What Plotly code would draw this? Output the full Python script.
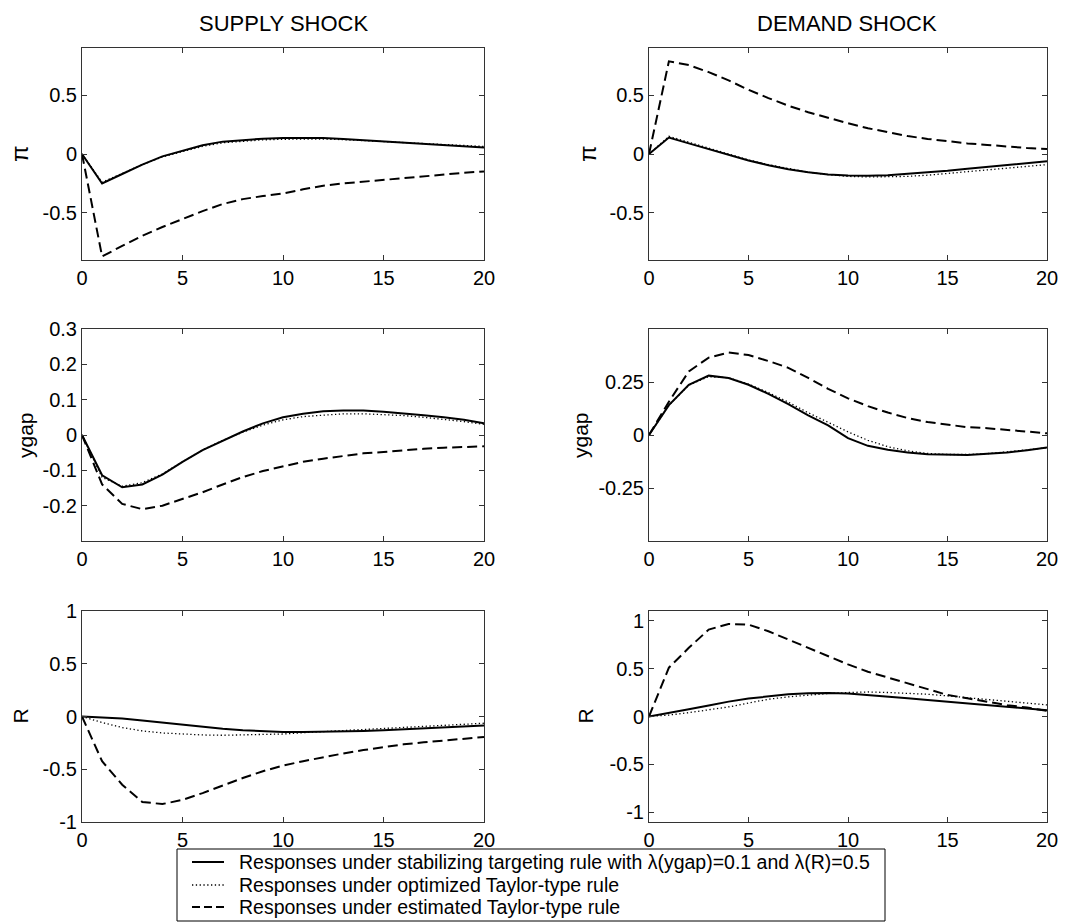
import plotly.graph_objects as go

# ---------------- data ----------------
periods = list(range(21))

series_names = [
    "Responses under stabilizing targeting rule with \u03bb(ygap)=0.1 and \u03bb(R)=0.5",
    "Responses under optimized Taylor-type rule",
    "Responses under estimated Taylor-type rule",
]

column_titles = ["SUPPLY SHOCK", "DEMAND SHOCK"]
row_labels = ["\u03c0", "ygap", "R"]

# Supply shock
pi_supply_target = [0, -0.25, -0.17, -0.09, -0.02, 0.028, 0.075, 0.105, 0.12, 0.13, 0.136, 0.137, 0.135, 0.128, 0.118, 0.105, 0.095, 0.085, 0.075, 0.065, 0.056]
pi_supply_opt = [0, -0.24, -0.165, -0.09, -0.025, 0.02, 0.065, 0.095, 0.11, 0.12, 0.125, 0.128, 0.127, 0.122, 0.113, 0.104, 0.095, 0.087, 0.078, 0.07, 0.064]
pi_supply_est = [0, -0.87, -0.78, -0.695, -0.62, -0.553, -0.485, -0.425, -0.383, -0.357, -0.335, -0.30, -0.27, -0.25, -0.235, -0.218, -0.2, -0.185, -0.17, -0.16, -0.148]

ygap_supply_target = [0, -0.114, -0.148, -0.14, -0.112, -0.076, -0.043, -0.016, 0.01, 0.033, 0.05, 0.06, 0.067, 0.069, 0.069, 0.066, 0.062, 0.056, 0.05, 0.043, 0.033]
ygap_supply_opt = [0, -0.12, -0.145, -0.135, -0.11, -0.075, -0.042, -0.015, 0.008, 0.028, 0.043, 0.052, 0.057, 0.06, 0.06, 0.058, 0.055, 0.05, 0.045, 0.038, 0.03]
ygap_supply_est = [0, -0.14, -0.195, -0.21, -0.2, -0.181, -0.162, -0.14, -0.119, -0.102, -0.088, -0.076, -0.067, -0.059, -0.052, -0.048, -0.043, -0.039, -0.036, -0.034, -0.032]

r_supply_target = [0, -0.008, -0.02, -0.037, -0.057, -0.078, -0.1, -0.117, -0.13, -0.14, -0.146, -0.148, -0.146, -0.142, -0.137, -0.13, -0.121, -0.113, -0.105, -0.095, -0.086]
r_supply_opt = [0, -0.057, -0.105, -0.137, -0.156, -0.169, -0.175, -0.178, -0.175, -0.172, -0.166, -0.153, -0.143, -0.13, -0.121, -0.111, -0.099, -0.089, -0.08, -0.073, -0.064]
r_supply_est = [0, -0.424, -0.647, -0.81, -0.83, -0.79, -0.726, -0.653, -0.583, -0.519, -0.465, -0.424, -0.385, -0.35, -0.318, -0.29, -0.264, -0.245, -0.226, -0.207, -0.194]

# Demand shock
pi_demand_target = [0, 0.14, 0.09, 0.04, -0.005, -0.055, -0.095, -0.13, -0.155, -0.175, -0.182, -0.185, -0.18, -0.168, -0.155, -0.142, -0.125, -0.108, -0.092, -0.077, -0.062]
pi_demand_opt = [0, 0.15, 0.10, 0.05, 0.0, -0.05, -0.09, -0.125, -0.155, -0.175, -0.19, -0.195, -0.195, -0.19, -0.18, -0.165, -0.15, -0.135, -0.12, -0.105, -0.09]
pi_demand_est = [0, 0.787, 0.755, 0.695, 0.625, 0.545, 0.475, 0.41, 0.355, 0.307, 0.261, 0.219, 0.185, 0.152, 0.128, 0.108, 0.09, 0.077, 0.063, 0.051, 0.043]

ygap_demand_target = [0, 0.141, 0.237, 0.28, 0.269, 0.237, 0.194, 0.146, 0.093, 0.045, -0.015, -0.051, -0.07, -0.083, -0.091, -0.094, -0.094, -0.088, -0.082, -0.072, -0.059]
ygap_demand_opt = [0, 0.14, 0.235, 0.275, 0.27, 0.24, 0.2, 0.155, 0.105, 0.06, 0.015, -0.025, -0.055, -0.075, -0.087, -0.092, -0.092, -0.088, -0.08, -0.07, -0.06]
ygap_demand_est = [0, 0.157, 0.30, 0.365, 0.389, 0.377, 0.349, 0.317, 0.269, 0.218, 0.173, 0.136, 0.106, 0.08, 0.061, 0.048, 0.037, 0.032, 0.024, 0.016, 0.008]

r_demand_target = [0, 0.035, 0.076, 0.115, 0.155, 0.187, 0.212, 0.232, 0.242, 0.245, 0.24, 0.225, 0.205, 0.19, 0.172, 0.155, 0.138, 0.12, 0.104, 0.085, 0.066]
r_demand_opt = [0, 0.015, 0.04, 0.068, 0.1, 0.14, 0.18, 0.205, 0.225, 0.24, 0.25, 0.256, 0.25, 0.243, 0.232, 0.215, 0.197, 0.18, 0.163, 0.142, 0.121]
r_demand_est = [0, 0.509, 0.716, 0.906, 0.965, 0.958, 0.889, 0.803, 0.716, 0.63, 0.543, 0.467, 0.405, 0.346, 0.284, 0.225, 0.19, 0.156, 0.118, 0.093, 0.059]

x_tickvals = [0, 5, 10, 15, 20]
x_ticktext = ["0", "5", "10", "15", "20"]

pi_tickvals = [-0.5, 0, 0.5]
pi_ticktext = ["-0.5", "0", "0.5"]
ygap_supply_tickvals = [-0.2, -0.1, 0, 0.1, 0.2, 0.3]
ygap_supply_ticktext = ["-0.2", "-0.1", "0", "0.1", "0.2", "0.3"]
ygap_demand_tickvals = [-0.25, 0, 0.25]
ygap_demand_ticktext = ["-0.25", "0", "0.25"]
r_tickvals = [-1, -0.5, 0, 0.5, 1]
r_ticktext = ["-1", "-0.5", "0", "0.5", "1"]

# ---------------- layout geometry ----------------
W, H = 1084, 922
col_px = [(82, 484), (649, 1047)]
row_px = [(48, 260), (329, 541), (611, 822)]

panels = [
    (0, 0, [pi_supply_target, pi_supply_opt, pi_supply_est], [-0.9, 0.9], pi_tickvals, pi_ticktext),
    (0, 1, [pi_demand_target, pi_demand_opt, pi_demand_est], [-0.9, 0.9], pi_tickvals, pi_ticktext),
    (1, 0, [ygap_supply_target, ygap_supply_opt, ygap_supply_est], [-0.3, 0.3], ygap_supply_tickvals, ygap_supply_ticktext),
    (1, 1, [ygap_demand_target, ygap_demand_opt, ygap_demand_est], [-0.5, 0.5], ygap_demand_tickvals, ygap_demand_ticktext),
    (2, 0, [r_supply_target, r_supply_opt, r_supply_est], [-1, 1], r_tickvals, r_ticktext),
    (2, 1, [r_demand_target, r_demand_opt, r_demand_est], [-1.1, 1.1], r_tickvals, r_ticktext),
]

styles = [
    dict(color="black", width=2, dash="solid"),
    dict(color="black", width=1.3, dash="1.3px,2.5px"),
    dict(color="black", width=2, dash="10px,5px"),
]

FONT = "Liberation Sans, Arial, sans-serif"
TICKSIZE = 20

fig = go.Figure()
layout = dict(
    width=W, height=H,
    margin=dict(l=0, r=0, t=0, b=0, autoexpand=False),
    paper_bgcolor="white", plot_bgcolor="white",
    font=dict(family=FONT, size=TICKSIZE, color="black"),
    showlegend=False,
)

for k, (r, c, ys, yr, tv, tt) in enumerate(panels, start=1):
    xa = "x" if k == 1 else f"x{k}"
    ya = "y" if k == 1 else f"y{k}"
    for i, (yv, st) in enumerate(zip(ys, styles)):
        fig.add_trace(go.Scatter(
            x=periods, y=yv, mode="lines", line=st,
            name=series_names[i], showlegend=False,
            xaxis=xa, yaxis=ya, hoverinfo="skip",
        ))
    x0, x1 = col_px[c]
    y0, y1 = row_px[r]
    axis_common = dict(
        showgrid=False, zeroline=False, showline=True, linecolor="#333",
        linewidth=1, mirror="ticks", ticks="inside", ticklen=5,
        tickcolor="#333", tickfont=dict(family=FONT, size=TICKSIZE, color="black"),
    )
    layout["xaxis" if k == 1 else f"xaxis{k}"] = dict(
        axis_common, domain=[x0 / W, x1 / W], range=[0, 20],
        tickmode="array", tickvals=x_tickvals, ticktext=x_ticktext,
        anchor=ya,
    )
    layout["yaxis" if k == 1 else f"yaxis{k}"] = dict(
        axis_common, domain=[1 - y1 / H, 1 - y0 / H], range=yr,
        tickmode="array", tickvals=tv, ticktext=tt,
        anchor=xa,
    )

annotations = []
title_px = [(283, 23), (847, 23)]
for t, (px, py) in zip(column_titles, title_px):
    annotations.append(dict(
        text=t, x=px / W, y=1 - py / H, xref="paper", yref="paper",
        showarrow=False, xanchor="center", yanchor="middle",
        font=dict(family=FONT, size=22, color="black"),
    ))

label_x = [[19, 587], [25, 580], [20, 585]]
for r, lab in enumerate(row_labels):
    yc = (row_px[r][0] + row_px[r][1]) / 2
    for c in range(2):
        annotations.append(dict(
            text=lab, x=label_x[r][c] / W, y=1 - yc / H, xref="paper", yref="paper",
            showarrow=False, xanchor="center", yanchor="middle", textangle=-90,
            font=dict(family=FONT, size=21 if lab != "\u03c0" else 24, color="black"),
        ))

# ---------------- legend (drawn box) ----------------
shapes = []
box = (177, 849, 885, 921)
shapes.append(dict(
    type="rect", xref="paper", yref="paper",
    x0=box[0] / W, x1=box[2] / W, y0=1 - box[3] / H, y1=1 - box[1] / H,
    line=dict(color="black", width=1), fillcolor="white", layer="above",
))
row_y = [862, 885, 907]
for i, st in enumerate(styles):
    yy = 1 - row_y[i] / H
    shapes.append(dict(
        type="line", xref="paper", yref="paper",
        x0=192 / W, x1=224 / W, y0=yy, y1=yy,
        line=dict(color="black", width=st["width"], dash=st["dash"] if st["dash"] != "10px,5px" else "8px,4px"),
        layer="above",
    ))
    annotations.append(dict(
        text=series_names[i], x=237 / W, y=yy, xref="paper", yref="paper",
        showarrow=False, xanchor="left", yanchor="middle",
        font=dict(family=FONT, size=19.5, color="black"),
    ))

layout["annotations"] = annotations
layout["shapes"] = shapes
fig.update_layout(**layout)
fig.write_html(
    "out.html",
    config={"displayModeBar": False},
    post_script="document.body.style.margin='0';document.body.style.overflow='hidden';",
)
